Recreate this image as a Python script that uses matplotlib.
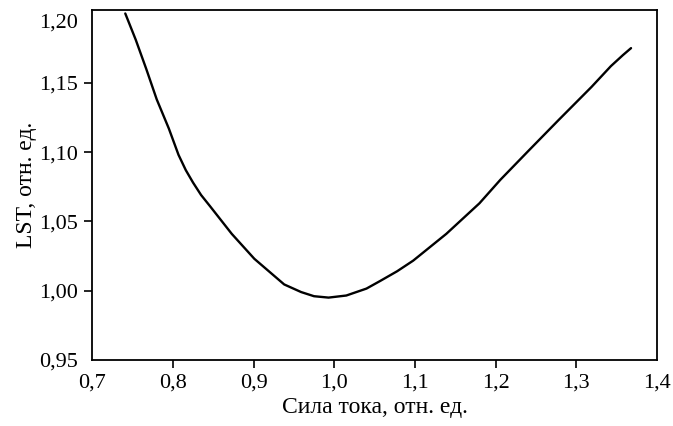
import matplotlib.pyplot as plt
from matplotlib.ticker import FuncFormatter

# values
current = [0.741, 0.754, 0.767, 0.780, 0.795, 0.807, 0.816, 0.825, 0.835, 0.846,
           0.873, 0.901, 0.918, 0.938, 0.959, 0.975, 0.993, 1.015, 1.040, 1.057,
           1.078, 1.098, 1.139, 1.180, 1.206, 1.241, 1.278, 1.319, 1.343, 1.358, 1.368]
lst = [1.200, 1.181, 1.160, 1.138, 1.117, 1.098, 1.087, 1.078, 1.069, 1.061,
       1.041, 1.023, 1.0145, 1.0045, 0.999, 0.996, 0.995, 0.9965, 1.0015, 1.007,
       1.014, 1.0217, 1.041, 1.063, 1.080, 1.101, 1.123, 1.147, 1.162, 1.170, 1.175]

xticks = [0.7, 0.8, 0.9, 1.0, 1.1, 1.2, 1.3, 1.4]
yticks = [0.95, 1.00, 1.05, 1.10, 1.15, 1.20]

plt.rcParams['font.family'] = ['Liberation Serif', 'DejaVu Serif']

fig = plt.figure(figsize=(6.73, 4.26), dpi=100)
ax = fig.add_axes([0.137, 0.155, 0.839, 0.8215])

ax.plot(current, lst, color='black', linewidth=1.7, solid_joinstyle='round',
        solid_capstyle='round')

ax.set_xlim(0.7, 1.4)
ax.set_ylim(0.95, 1.2025)
ax.set_xticks(xticks)
ax.set_yticks(yticks)
ax.xaxis.set_major_formatter(FuncFormatter(lambda v, p: f"{v:.1f}".replace('.', ',')))
ax.yaxis.set_major_formatter(FuncFormatter(lambda v, p: f"{v:.2f}".replace('.', ',')))
ax.tick_params(direction='out', length=6, width=1.2, labelsize=16, pad=4)

# the end ticks sit on the frame corners and are not drawn in the original
for t in [ax.xaxis.get_major_ticks()[0], ax.xaxis.get_major_ticks()[-1],
          ax.yaxis.get_major_ticks()[0], ax.yaxis.get_major_ticks()[-1]]:
    t.tick1line.set_visible(False)
ax.yaxis.get_major_ticks()[-1].label1.set_verticalalignment('top')

for s in ax.spines.values():
    s.set_linewidth(1.3)

ax.set_xlabel("Сила тока, отн. ед.", fontsize=17, labelpad=3)
ax.set_ylabel("LST, отн. ед.", fontsize=17, labelpad=2)

fig.savefig("out.png", dpi=100)
